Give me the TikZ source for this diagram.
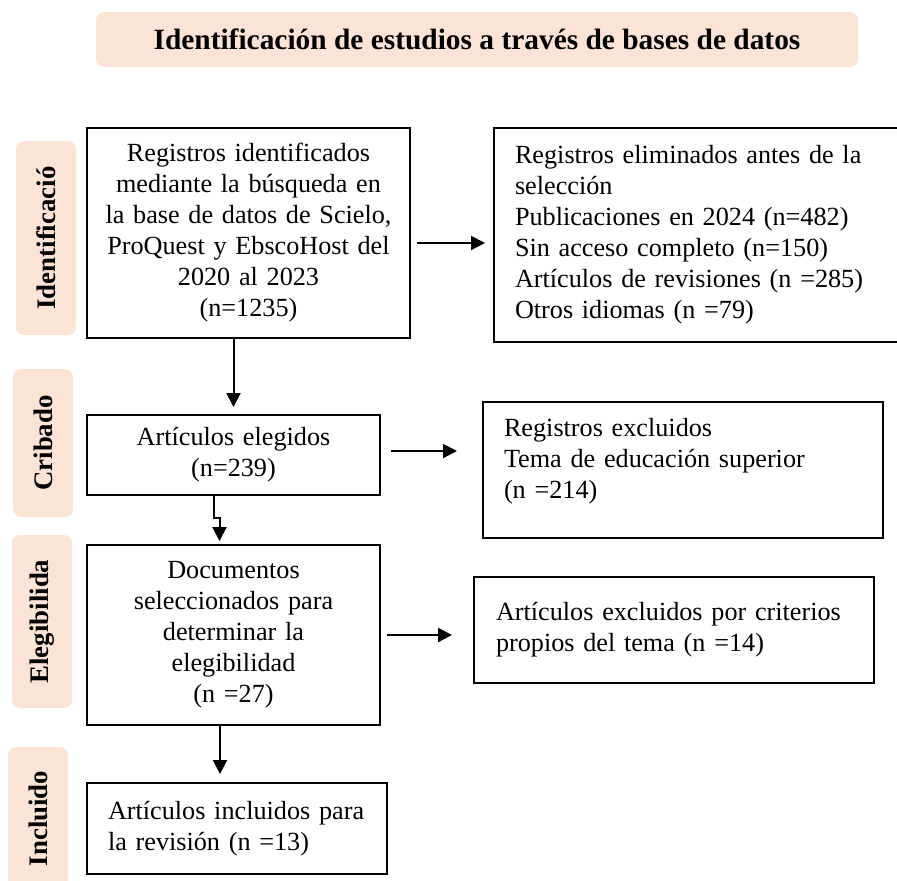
\documentclass[tikz,border=0pt]{standalone}
\usepackage{fontspec}
\setmainfont{Liberation Serif}
\usetikzlibrary{positioning, arrows.meta}
\definecolor{peach}{HTML}{FBE4D5}
\tikzset{
	every node/.append style={
		font=\fontsize{13.1}{15.5}\selectfont,
	},
	box/.append style={
		draw,
		line width=1pt,
		inner sep=4pt,
		anchor=north west,
	},
	phase/.append style={
		fill=peach,
		rounded corners=4pt,
		rotate=90,
		minimum height=30pt,
		font={\fontsize{13.4}{15}\selectfont\bfseries},
	},
	flow/.append style={
		line width=1pt,
		-{Triangle[length=7pt,width=7pt]},
	},
}

\begin{document}
\begin{tikzpicture}[x=1pt, y=1pt]
\useasboundingbox (0,0) rectangle (448.5,-440);

\node(title)[fill=peach, rounded corners=4pt, minimum width=381pt, minimum height=27.5pt,
	font={\fontsize{14.7}{17}\selectfont\bfseries}] at (238.5,-19.75)
	{Identificación de estudios a través de bases de datos};

% fases
\node(lblA)[phase, minimum width=97pt] at (23,-119) {Identificació};
\node(lblB)[phase, minimum width=74pt] at (21.5,-221.5) {Cribado};
\node(lblC)[phase, minimum width=86.5pt] at (21,-310.75) {Elegibilida};
\node(lblD)[phase, minimum width=71.5pt] at (19,-409.25) {Incluido};

% columna izquierda
\node(b1)[box, align=center, text width=153.5pt, minimum height=105pt] at (43,-63.5)
	{Registros identificados\\ mediante la búsqueda en\\ la base de datos de Scielo,\\
	ProQuest y EbscoHost del\\ 2020 al 2023\\ (n=1235)};
\node(b3)[box, below=37.5pt of b1.south west, anchor=north west, align=center,
	text width=138.5pt, minimum height=40pt]
	{Artículos elegidos\\ (n=239)};
\node(b5)[box, below=24pt of b3.south west, anchor=north west, align=center,
	text width=138.5pt, minimum height=90pt]
	{Documentos\\ seleccionados para\\ determinar la\\ elegibilidad\\ (n =27)};
\node(b7)[box, below=28pt of b5.south west, anchor=north west, align=left,
	inner xsep=10.5pt, text width=129pt, minimum height=45.5pt]
	{Artículos incluidos para\\ la revisión (n =13)};

% columna derecha
\node(b2)[box, right=41pt of b1.north east, anchor=north west, align=left,
	inner xsep=10.5pt, text width=181.5pt, minimum height=107pt]
	{Registros eliminados antes de la\\ selección\\ Publicaciones en 2024 (n=482)\\
	Sin acceso completo (n=150)\\ Artículos de revisiones (n =285)\\ Otros idiomas (n =79)};
\node(b4)[box, align=left, inner xsep=10.5pt, inner ysep=7pt, text width=179pt,
	text height=10pt, text depth=44pt] at (241,-200.5)
	{Registros excluidos\\ Tema de educación superior\\ (n =214)};
\node(b6)[box, align=left, inner xsep=11pt, text width=178pt, minimum height=53pt] at (236.5,-288)
	{Artículos excluidos por criterios\\ propios del tema (n =14)};

% flechas
\draw[flow, shorten <=3pt, shorten >=4pt] ([yshift=-5pt]b1.east) -- ([yshift=-5pt]b1.east -| b2.west);
\draw[flow, shorten >=3.5pt] (b1.south -| b3.north) -- (b3.north);
\draw[flow, shorten <=5pt, shorten >=12.5pt] ([yshift=2pt]b3.east) -- ([yshift=2pt]b3.east -| b4.west);
\draw[flow, shorten >=1.5pt] ([xshift=-10pt]b3.south) -- ++(0,-11) -| ([xshift=-7pt]b5.north);
\draw[flow, shorten <=3pt, shorten >=10.5pt] (b5.east) -- (b5.east -| b6.west);
\draw[flow, shorten >=4pt] ([xshift=-6.75pt]b5.south) -- ([xshift=-6.75pt]b5.south |- b7.north);

\end{tikzpicture}
\end{document}
